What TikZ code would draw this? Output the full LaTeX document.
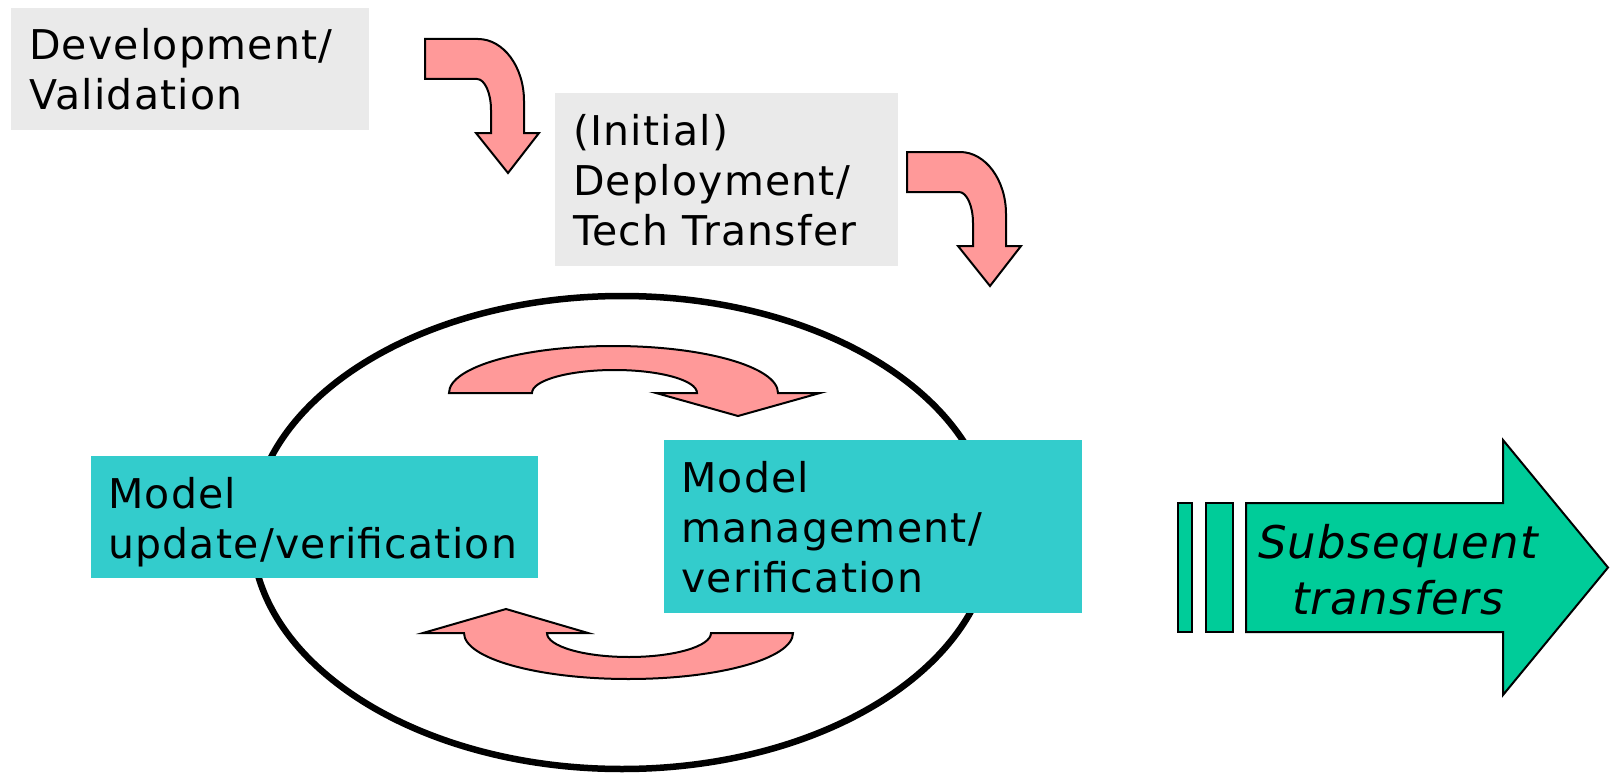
\documentclass[tikz,border=0pt]{standalone}
\usepackage{fontspec}
\setmainfont{DejaVu Sans}[LetterSpace=3]
\definecolor{boxgrey}{HTML}{EAEAEA}
\definecolor{tealbox}{HTML}{33CCCC}
\definecolor{pinkfill}{HTML}{FF9999}
\definecolor{greenfill}{HTML}{00CC99}
\begin{document}
\begin{tikzpicture}[x=1pt,y=-1pt,
  greybox/.style={fill=boxgrey, draw=none, inner sep=0, anchor=north west},
  tealrect/.style={fill=tealbox, draw=none, inner sep=0, anchor=north west},
  label/.style={anchor=north west, inner sep=0, align=left,
                font=\fontsize{41}{50}\selectfont},
  pinkarrow/.style={fill=pinkfill, draw=black, line width=2pt, line join=miter},
  greenshape/.style={fill=greenfill, draw=black, line width=2pt},
  bentarrow/.pic={
    \draw[pinkarrow] (0,0) -- (53,0) .. controls (78.4,0) and (99,27.8) .. (99,62)
      -- (99,94) -- (114,94) -- (83,134) -- (51,94) -- (66,94) -- (66,71)
      .. controls (66,53.9) and (59.7,40) .. (52,40) -- (0,40) -- cycle;
  }]
\useasboundingbox (0,0) rectangle (1610,776);

% stage boxes
\node[greybox, minimum width=358, minimum height=122] (devbox) at (11,8) {};
\node[label] (devtext) at (29,19) {\rule{0pt}{40pt}Development/\\Validation};
\node[greybox, minimum width=343, minimum height=173] (depbox) at (555,93) {};
\node[label] (deptext) at (573,105) {\rule{0pt}{40pt}(Initial)\\Deployment/\\Tech Transfer};

% bent arrows between stages
\pic (bendA) at (425,39) {bentarrow};
\pic (bendB) at (907,152) {bentarrow};

% maintenance cycle
\draw[line width=6.5pt] (622,532.5) ellipse [x radius=370, y radius=236.5];

\node[tealrect, minimum width=447, minimum height=122] (updbox) at (91,456) {};
\node[label] (updtext) at (108,468) {\rule{0pt}{40pt}Model\\update/verification};
\node[tealrect, minimum width=418, minimum height=173] (mgmtbox) at (664,440) {};
\node[label] (mgmttext) at (681,452) {\rule{0pt}{40pt}Model\\management/\\verification};

% circular arrows inside the cycle
\draw[pinkarrow] (449,393) .. controls (449,367) and (522.6,346) .. (613.5,346)
  .. controls (704.4,346) and (778,367) .. (778,393)
  -- (820,393) -- (738,416) -- (656,393) -- (697,393)
  .. controls (697,380.3) and (660.1,370) .. (614.5,370)
  .. controls (568.9,370) and (532,380.3) .. (532,393) -- cycle;
\draw[pinkarrow] (793,633) .. controls (793,658.4) and (719.4,679) .. (628.5,679)
  .. controls (537.6,679) and (464,658.4) .. (464,633)
  -- (423,633) -- (506,609) -- (588,633) -- (547,633)
  .. controls (547,646.3) and (583.7,657) .. (629,657)
  .. controls (674.3,657) and (711,646.3) .. (711,633) -- cycle;

% striped arrow for later transfers
\draw[greenshape] (1178,503) rectangle (1192,632);
\draw[greenshape] (1206,503) rectangle (1233,632);
\draw[greenshape] (1246,503) -- (1503,503) -- (1503,440) -- (1608,567.5)
  -- (1503,695) -- (1503,632) -- (1246,632) -- cycle;
\node[anchor=north, inner sep=0, align=center,
      font=\fontsize{45}{56}\selectfont\itshape] (subtext) at (1398,514)
  {\rule{0pt}{44pt}Subsequent\\transfers};
\end{tikzpicture}
\end{document}
